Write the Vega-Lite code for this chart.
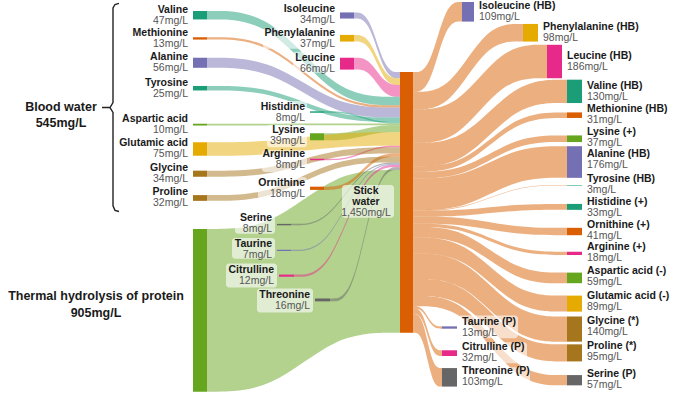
{
"$schema":"https://vega.github.io/schema/vega-lite/v6.json",
"width":685,"height":399,"padding":0,
"autosize":{"type":"fit","contains":"padding"},
"background":"#ffffff",
"config":{"view":{"stroke":null},"font":"Liberation Sans"},
"datasets":{
"links":[
{"id":"TH","c":"TH","xs":[207,271.3,335.7,400],"ya":[1262,1262,935,935],"yb":[2167,2167,1840,1840]},
{"id":"Ile","c":"Ile","xs":[354,369.3,384.7,400],"ya":[58,58,390,390],"yb":[92,92,424,424]},
{"id":"Phe","c":"Phe","xs":[354,369.3,384.7,400],"ya":[183,183,424,424],"yb":[220,220,461,461]},
{"id":"Leu","c":"Leu","xs":[354,369.3,384.7,400],"ya":[310,310,461,461],"yb":[376,376,527,527]},
{"id":"Val","c":"Val","xs":[207,271.3,335.7,400],"ya":[50,50,527,527],"yb":[97,97,574,574]},
{"id":"Met","c":"Met","xs":[207,271.3,335.7,400],"ya":[196,196,574,574],"yb":[209,209,587,587]},
{"id":"Ala","c":"Ala","xs":[207,271.3,335.7,400],"ya":[310,310,587,587],"yb":[366,366,643,643]},
{"id":"Tyr","c":"Tyr","xs":[207,271.3,335.7,400],"ya":[467,467,643,643],"yb":[492,492,668,668]},
{"id":"His","c":"His","xs":[324,349.3,374.7,400],"ya":[608,608,668,668],"yb":[616,616,676,676]},
{"id":"Asp","c":"Asp","xs":[207,271.3,335.7,400],"ya":[677,677,676,676],"yb":[687,687,686,686]},
{"id":"Lys","c":"Lys","xs":[324,349.3,374.7,400],"ya":[730,730,686,686],"yb":[769,769,725,725]},
{"id":"Glu","c":"Glu","xs":[207,271.3,335.7,400],"ya":[780,780,725,725],"yb":[855,855,800,800]},
{"id":"Arg","c":"Arg","xs":[324,349.3,374.7,400],"ya":[872,872,800,800],"yb":[880,880,808,808]},
{"id":"Gly","c":"Gly","xs":[207,271.3,335.7,400],"ya":[938,938,808,808],"yb":[972,972,842,842]},
{"id":"Orn","c":"Orn","xs":[324,349.3,374.7,400],"ya":[1027,1027,842,842],"yb":[1045,1045,860,860]},
{"id":"Pro","c":"Pro","xs":[207,271.3,335.7,400],"ya":[1074,1074,860,860],"yb":[1106,1106,892,892]},
{"id":"Ser","c":"Ser","xs":[291,327.3,363.7,400],"ya":[1234,1234,892,892],"yb":[1242,1242,900,900]},
{"id":"Tau","c":"Tau","xs":[291,327.3,363.7,400],"ya":[1378,1378,900,900],"yb":[1385,1385,907,907]},
{"id":"Cit","c":"Cit","xs":[294,329.3,364.7,400],"ya":[1516,1516,907,907],"yb":[1528,1528,919,919]},
{"id":"Thr","c":"Thr","xs":[330,353.3,376.7,400],"ya":[1649,1649,919,919],"yb":[1665,1665,935,935]},
{"id":"R-Ile","c":"SW","xs":[413,429.3,445.7,462],"ya":[390,390,0,0],"yb":[499,499,109,109]},
{"id":"R-Phe","c":"SW","xs":[413,449.7,486.3,523],"ya":[499,499,122,122],"yb":[597,597,220,220]},
{"id":"R-Leu","c":"SW","xs":[413,457.7,502.3,547],"ya":[597,597,238,238],"yb":[783,783,424,424]},
{"id":"R-Val","c":"SW","xs":[413,464.3,515.7,567],"ya":[783,783,432,432],"yb":[913,913,562,562]},
{"id":"R-Met","c":"SW","xs":[413,464.3,515.7,567],"ya":[913,913,614,614],"yb":[944,944,645,645]},
{"id":"R-Lys","c":"SW","xs":[413,464.3,515.7,567],"ya":[944,944,742,742],"yb":[981,981,779,779]},
{"id":"R-Ala","c":"SW","xs":[413,464.3,515.7,567],"ya":[981,981,802,802],"yb":[1157,1157,978,978]},
{"id":"R-Tyr","c":"SW","xs":[413,464.3,515.7,567],"ya":[1157,1157,1018,1018],"yb":[1160,1160,1021,1021]},
{"id":"R-His","c":"SW","xs":[413,464.3,515.7,567],"ya":[1160,1160,1123,1123],"yb":[1193,1193,1156,1156]},
{"id":"R-Orn","c":"SW","xs":[413,464.3,515.7,567],"ya":[1193,1193,1256,1256],"yb":[1234,1234,1297,1297]},
{"id":"R-Arg","c":"SW","xs":[413,464.3,515.7,567],"ya":[1234,1234,1389,1389],"yb":[1252,1252,1407,1407]},
{"id":"R-Asp","c":"SW","xs":[413,464.3,515.7,567],"ya":[1252,1252,1505,1505],"yb":[1311,1311,1564,1564]},
{"id":"R-Glu","c":"SW","xs":[413,464.3,515.7,567],"ya":[1311,1311,1633,1633],"yb":[1400,1400,1722,1722]},
{"id":"R-Gly","c":"SW","xs":[413,464.3,515.7,567],"ya":[1400,1400,1749,1749],"yb":[1540,1540,1889,1889]},
{"id":"R-Pro","c":"SW","xs":[413,464.3,515.7,567],"ya":[1540,1540,1904,1904],"yb":[1635,1635,1999,1999]},
{"id":"R-Ser","c":"SW","xs":[413,464.3,515.7,567],"ya":[1635,1635,2075,2075],"yb":[1692,1692,2132,2132]},
{"id":"R-Tau","c":"SW","xs":[413,422.7,432.3,442],"ya":[1692,1692,1804,1804],"yb":[1705,1705,1817,1817]},
{"id":"R-Cit","c":"SW","xs":[413,422.7,432.3,442],"ya":[1705,1705,1937,1937],"yb":[1737,1737,1969,1969]},
{"id":"R-Thr","c":"SW","xs":[413,422.7,432.3,442],"ya":[1737,1737,2036,2036],"yb":[1840,1840,2139,2139]}
],
"nodes":[
{"id":"TH","c":"TH","name":"","lab":"","x0":193,"x1":207,"y0":1262,"y1":2167,"yc":1714,"side":"N"},
{"id":"SW","c":"SW","name":"","lab":"","x0":400,"x1":413,"y0":390,"y1":1840,"yc":1115,"side":"N"},
{"id":"Val","c":"Val","name":"Valine","lab":"47mg/L","x0":193,"x1":207,"y0":50,"y1":97,"yc":73.5,"side":"L"},
{"id":"Met","c":"Met","name":"Methionine","lab":"13mg/L","x0":193,"x1":207,"y0":196,"y1":209,"yc":202.5,"side":"L"},
{"id":"Ala","c":"Ala","name":"Alanine","lab":"56mg/L","x0":193,"x1":207,"y0":310,"y1":366,"yc":338,"side":"L"},
{"id":"Tyr","c":"Tyr","name":"Tyrosine","lab":"25mg/L","x0":193,"x1":207,"y0":467,"y1":492,"yc":479.5,"side":"L"},
{"id":"Asp","c":"Asp","name":"Aspartic acid","lab":"10mg/L","x0":193,"x1":207,"y0":677,"y1":687,"yc":682,"side":"L"},
{"id":"Glu","c":"Glu","name":"Glutamic acid","lab":"75mg/L","x0":193,"x1":207,"y0":780,"y1":855,"yc":817.5,"side":"L"},
{"id":"Gly","c":"Gly","name":"Glycine","lab":"34mg/L","x0":193,"x1":207,"y0":938,"y1":972,"yc":955,"side":"L"},
{"id":"Pro","c":"Pro","name":"Proline","lab":"32mg/L","x0":193,"x1":207,"y0":1074,"y1":1106,"yc":1090,"side":"L"},
{"id":"Ile","c":"Ile","name":"Isoleucine","lab":"34mg/L","x0":340,"x1":354,"y0":58,"y1":92,"yc":68,"side":"L"},
{"id":"Phe","c":"Phe","name":"Phenylalanine","lab":"37mg/L","x0":340,"x1":354,"y0":183,"y1":220,"yc":201.5,"side":"L"},
{"id":"Leu","c":"Leu","name":"Leucine","lab":"66mg/L","x0":340,"x1":354,"y0":310,"y1":376,"yc":340,"side":"L"},
{"id":"His","c":"His","name":"Histidine","lab":"8mg/L","x0":310,"x1":324,"y0":608,"y1":616,"yc":612,"side":"L"},
{"id":"Lys","c":"Lys","name":"Lysine","lab":"39mg/L","x0":310,"x1":324,"y0":730,"y1":769,"yc":745,"side":"L"},
{"id":"Arg","c":"Arg","name":"Arginine","lab":"8mg/L","x0":310,"x1":324,"y0":872,"y1":880,"yc":876,"side":"L"},
{"id":"Orn","c":"Orn","name":"Ornithine","lab":"18mg/L","x0":310,"x1":324,"y0":1027,"y1":1045,"yc":1036,"side":"L"},
{"id":"Ser","c":"Ser","name":"Serine","lab":"8mg/L","x0":277,"x1":291,"y0":1234,"y1":1242,"yc":1234,"side":"L"},
{"id":"Tau","c":"Tau","name":"Taurine","lab":"7mg/L","x0":277,"x1":291,"y0":1378,"y1":1385,"yc":1377,"side":"L"},
{"id":"Cit","c":"Cit","name":"Citrulline","lab":"12mg/L","x0":279,"x1":294,"y0":1516,"y1":1528,"yc":1522,"side":"L"},
{"id":"Thr","c":"Thr","name":"Threonine","lab":"16mg/L","x0":315,"x1":330,"y0":1649,"y1":1665,"yc":1660,"side":"L"},
{"id":"R-Ile","c":"Ile","name":"Isoleucine (HB)","lab":"109mg/L","x0":462,"x1":474,"y0":0,"y1":109,"yc":54.5,"side":"R"},
{"id":"R-Phe","c":"Phe","name":"Phenylalanine (HB)","lab":"98mg/L","x0":523,"x1":538,"y0":122,"y1":220,"yc":171,"side":"R"},
{"id":"R-Leu","c":"Leu","name":"Leucine (HB)","lab":"186mg/L","x0":547,"x1":562,"y0":238,"y1":424,"yc":331,"side":"R"},
{"id":"R-Val","c":"Val","name":"Valine (HB)","lab":"130mg/L","x0":567,"x1":582,"y0":432,"y1":562,"yc":497,"side":"R"},
{"id":"R-Met","c":"Met","name":"Methionine (HB)","lab":"31mg/L","x0":567,"x1":582,"y0":614,"y1":645,"yc":624,"side":"R"},
{"id":"R-Lys","c":"Lys","name":"Lysine (+)","lab":"37mg/L","x0":567,"x1":582,"y0":742,"y1":779,"yc":755,"side":"R"},
{"id":"R-Ala","c":"Ala","name":"Alanine (HB)","lab":"176mg/L","x0":567,"x1":582,"y0":802,"y1":978,"yc":875,"side":"R"},
{"id":"R-Tyr","c":"Tyr","name":"Tyrosine (HB)","lab":"3mg/L","x0":567,"x1":582,"y0":1018,"y1":1021,"yc":1014,"side":"R"},
{"id":"R-His","c":"His","name":"Histidine (+)","lab":"33mg/L","x0":567,"x1":582,"y0":1123,"y1":1156,"yc":1142,"side":"R"},
{"id":"R-Orn","c":"Orn","name":"Ornithine (+)","lab":"41mg/L","x0":567,"x1":582,"y0":1256,"y1":1297,"yc":1272,"side":"R"},
{"id":"R-Arg","c":"Arg","name":"Arginine (+)","lab":"18mg/L","x0":567,"x1":582,"y0":1389,"y1":1407,"yc":1395,"side":"R"},
{"id":"R-Asp","c":"Asp","name":"Aspartic acid (-)","lab":"59mg/L","x0":567,"x1":582,"y0":1505,"y1":1564,"yc":1525,"side":"R"},
{"id":"R-Glu","c":"Glu","name":"Glutamic acid (-)","lab":"89mg/L","x0":567,"x1":582,"y0":1633,"y1":1722,"yc":1665,"side":"R"},
{"id":"R-Gly","c":"Gly","name":"Glycine (*)","lab":"140mg/L","x0":567,"x1":582,"y0":1749,"y1":1889,"yc":1807,"side":"R"},
{"id":"R-Pro","c":"Pro","name":"Proline (*)","lab":"95mg/L","x0":567,"x1":582,"y0":1904,"y1":1999,"yc":1945,"side":"R"},
{"id":"R-Ser","c":"Ser","name":"Serine (P)","lab":"57mg/L","x0":567,"x1":582,"y0":2075,"y1":2132,"yc":2100,"side":"R"},
{"id":"R-Tau","c":"Tau","name":"Taurine (P)","lab":"13mg/L","x0":442,"x1":457,"y0":1804,"y1":1817,"yc":1813,"side":"R"},
{"id":"R-Cit","c":"Cit","name":"Citrulline (P)","lab":"32mg/L","x0":442,"x1":457,"y0":1937,"y1":1969,"yc":1950,"side":"R"},
{"id":"R-Thr","c":"Thr","name":"Threonine (P)","lab":"103mg/L","x0":442,"x1":457,"y0":2036,"y1":2139,"yc":2083,"side":"R"}
],
"boxes":[
{"id":"Ile","x":282,"x2":338,"y":5,"y2":110},
{"id":"Phe","x":263,"x2":338,"y":144,"y2":260},
{"id":"Leu","x":293,"x2":338,"y":277,"y2":393},
{"id":"His","x":259,"x2":307,"y":550,"y2":672},
{"id":"Lys","x":267,"x2":307,"y":683,"y2":808},
{"id":"Arg","x":262,"x2":307,"y":825,"y2":946},
{"id":"Orn","x":258,"x2":307,"y":974,"y2":1096},
{"id":"Ser","x":235,"x2":275,"y":1173,"y2":1289},
{"id":"Tau","x":232,"x2":275,"y":1312,"y2":1428},
{"id":"Cit","x":226,"x2":277,"y":1455,"y2":1588},
{"id":"Thr","x":257,"x2":313,"y":1594,"y2":1727},
{"id":"SW","x":342,"x2":394,"y":1018,"y2":1200},
{"id":"R-Tau","x":458,"x2":518,"y":1743,"y2":1870},
{"id":"R-Cit","x":458,"x2":527,"y":1893,"y2":2009},
{"id":"R-Thr","x":458,"x2":530,"y":2031,"y2":2147}
],
"ann":[
{"t":"Blood water","x":61,"y":584,"g":"big"},
{"t":"545mg/L","x":61,"y":675,"g":"big"},
{"t":"Thermal hydrolysis of protein","x":96,"y":1633,"g":"big"},
{"t":"905mg/L","x":96,"y":1732,"g":"big"},
{"t":"Stick","x":366,"y":1051,"g":"name"},
{"t":"water","x":366,"y":1112,"g":"name"},
{"t":"1,450mg/L","x":366,"y":1173,"g":"val"}
],
"brace":[
{"s":"a","p":0,"x":119,"y":8},
{"s":"a","p":1,"x":115,"y":14},
{"s":"a","p":2,"x":113,"y":33},
{"s":"a","p":3,"x":113,"y":559},
{"s":"a","p":4,"x":110,"y":587},
{"s":"a","p":5,"x":102,"y":587},
{"s":"b","p":0,"x":110,"y":587},
{"s":"b","p":1,"x":113,"y":614},
{"s":"b","p":2,"x":113,"y":1134},
{"s":"b","p":3,"x":115,"y":1159},
{"s":"b","p":4,"x":119,"y":1165}
]
},
"layer":[
{"data":{"name":"links"},"transform":[{"flatten":["xs","ya","yb"]}],
 "mark":{"type":"area","interpolate":"basis","opacity":0.5},
 "encoding":{
  "x":{"field":"xs","type":"quantitative","scale":{"domain":[0,685],"nice":false,"zero":false},"axis":null},
  "y":{"field":"ya","type":"quantitative","stack":null,"scale":{"domain":[0,2208],"nice":false,"zero":false,"reverse":true},"axis":null},
  "y2":{"field":"yb"},
  "detail":{"field":"id","type":"nominal"},
  "color":{"field":"c","type":"nominal","legend":null,"scale":{"domain":["Val","Met","Ala","Tyr","Asp","Glu","Gly","Pro","Ile","Phe","Leu","His","Lys","Arg","Orn","Ser","Tau","Cit","Thr","SW","TH"],"range":["#1b9e77","#d95f02","#7570b3","#1b9e77","#66a61e","#e6ab02","#a6761d","#a6761d","#7570b3","#e6ab02","#e7298a","#1b9e77","#66a61e","#e7298a","#d95f02","#666666","#7570b3","#e7298a","#666666","#d95f02","#66a61e"]}}
 }},
{"data":{"name":"nodes"},
 "mark":{"type":"rect"},
 "encoding":{
  "x":{"field":"x0","type":"quantitative","scale":{"domain":[0,685],"nice":false,"zero":false},"axis":null},
  "x2":{"field":"x1"},
  "y":{"field":"y0","type":"quantitative","scale":{"domain":[0,2208],"nice":false,"zero":false,"reverse":true},"axis":null},
  "y2":{"field":"y1"},
  "color":{"field":"c","type":"nominal","legend":null}
 }},
{"data":{"name":"boxes"},
 "mark":{"type":"rect","fill":"#ffffff","opacity":0.6,"cornerRadius":3},
 "encoding":{
  "x":{"field":"x","type":"quantitative","axis":null},
  "x2":{"field":"x2"},
  "y":{"field":"y","type":"quantitative","axis":null},
  "y2":{"field":"y2"}
 }},
{"data":{"name":"brace"},
 "mark":{"type":"line","stroke":"#222222","strokeWidth":1.4},
 "encoding":{
  "x":{"field":"x","type":"quantitative","axis":null},
  "y":{"field":"y","type":"quantitative","axis":null},
  "detail":{"field":"s","type":"nominal"},
  "order":{"field":"p","type":"quantitative"}
 }},
{"data":{"name":"nodes"},"transform":[{"filter":"datum.side === 'L'"}],
 "mark":{"type":"text","align":"right","baseline":"middle","dx":-5,"dy":-5.5,"fontSize":10.5,"fontWeight":"bold","color":"#1a1a1a"},
 "encoding":{
  "x":{"field":"x0","type":"quantitative","axis":null},
  "y":{"field":"yc","type":"quantitative","axis":null},
  "text":{"field":"name"}
 }},
{"data":{"name":"nodes"},"transform":[{"filter":"datum.side === 'L'"}],
 "mark":{"type":"text","align":"right","baseline":"middle","dx":-5,"dy":5.5,"fontSize":10.5,"color":"#555555"},
 "encoding":{
  "x":{"field":"x0","type":"quantitative","axis":null},
  "y":{"field":"yc","type":"quantitative","axis":null},
  "text":{"field":"lab"}
 }},
{"data":{"name":"nodes"},"transform":[{"filter":"datum.side === 'R'"}],
 "mark":{"type":"text","align":"left","baseline":"middle","dx":5,"dy":-5.5,"fontSize":10.5,"fontWeight":"bold","color":"#1a1a1a"},
 "encoding":{
  "x":{"field":"x1","type":"quantitative","axis":null},
  "y":{"field":"yc","type":"quantitative","axis":null},
  "text":{"field":"name"}
 }},
{"data":{"name":"nodes"},"transform":[{"filter":"datum.side === 'R'"}],
 "mark":{"type":"text","align":"left","baseline":"middle","dx":5,"dy":5.5,"fontSize":10.5,"color":"#555555"},
 "encoding":{
  "x":{"field":"x1","type":"quantitative","axis":null},
  "y":{"field":"yc","type":"quantitative","axis":null},
  "text":{"field":"lab"}
 }},
{"data":{"name":"ann"},"transform":[{"filter":"datum.g === 'big'"}],
 "mark":{"type":"text","align":"center","baseline":"middle","fontSize":12.5,"fontWeight":"bold","color":"#1a1a1a"},
 "encoding":{
  "x":{"field":"x","type":"quantitative","axis":null},
  "y":{"field":"y","type":"quantitative","axis":null},
  "text":{"field":"t"}
 }},
{"data":{"name":"ann"},"transform":[{"filter":"datum.g === 'name'"}],
 "mark":{"type":"text","align":"center","baseline":"middle","fontSize":10.5,"fontWeight":"bold","color":"#1a1a1a"},
 "encoding":{
  "x":{"field":"x","type":"quantitative","axis":null},
  "y":{"field":"y","type":"quantitative","axis":null},
  "text":{"field":"t"}
 }},
{"data":{"name":"ann"},"transform":[{"filter":"datum.g === 'val'"}],
 "mark":{"type":"text","align":"center","baseline":"middle","fontSize":10.5,"color":"#555555"},
 "encoding":{
  "x":{"field":"x","type":"quantitative","axis":null},
  "y":{"field":"y","type":"quantitative","axis":null},
  "text":{"field":"t"}
 }}
]
}
